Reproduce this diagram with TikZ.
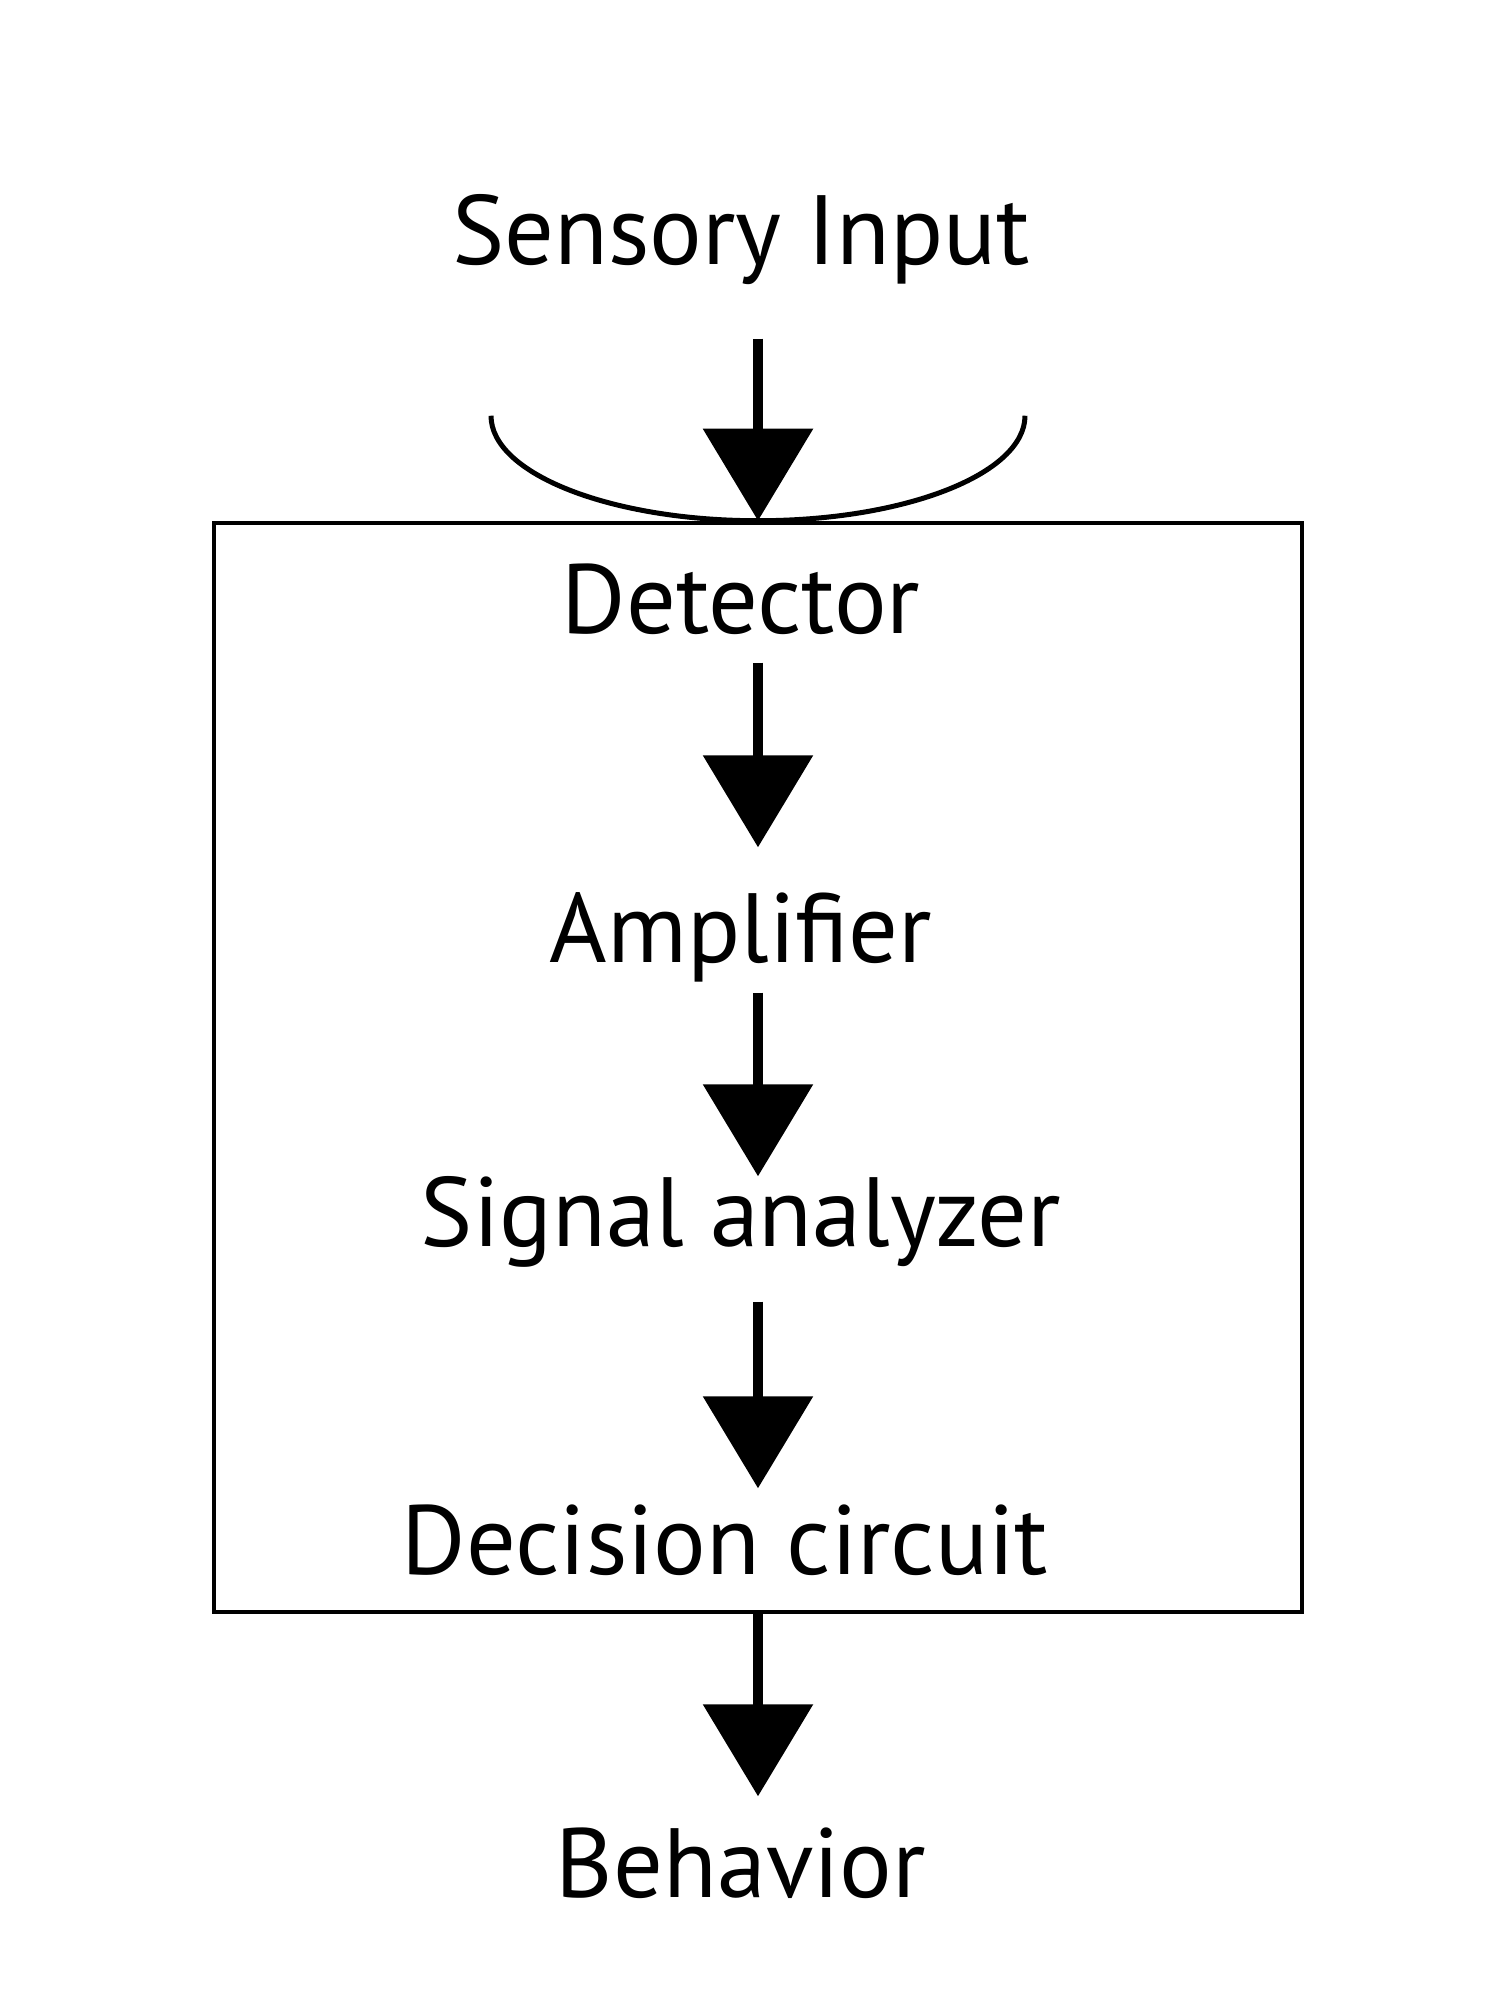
\documentclass[tikz,border=0pt]{standalone}
\usepackage{fontspec}
\setmainfont{PT Sans}
\usetikzlibrary{arrows.meta}

\begin{document}
\begin{tikzpicture}[
	every node/.style={font=\fontsize{28}{33}\selectfont},
	stage/.style={anchor=base, inner sep=0pt, text height=6.6mm, text depth=0pt},
	flow/.style={line width=1mm, -{Triangle[length=9.2mm, width=10.8mm]}},
]
	\useasboundingbox (0,0) rectangle (15,20);
	% the detector unit
	\node[draw, line width=0.45mm, minimum width=10.88cm, minimum height=10.89cm, inner sep=0pt] (box) at (7.58,9.325) {};
	\draw[line width=0.5mm] (box.north) ++(-2.67,1.05) arc[start angle=180, end angle=360, x radius=2.67, y radius=1.05];

	\node[stage] (input) at (7.41,17.35) {Sensory Input};
	\node[stage] (det) at (7.41,13.66) {Detector};
	\node[stage] (amp) at (7.41,10.37) {Amplifier};
	\node[stage] (sig) at (7.41,7.53) {Signal analyzer};
	\node[stage] (dec) at (7.25,4.25) {Decision circuit};
	\node[stage] (beh) at (7.41,1.02) {Behavior};

	\draw[flow, shorten <=7.3mm] (input.south -| box.north) -- (box.north);
	\draw[flow, shorten <=2.8mm, shorten >=4.9mm] (det.south -| box.north) -- (amp.north -| box.north);
	\draw[flow, shorten <=2.9mm, shorten >=0.4mm] (amp.south -| box.north) -- (sig.north -| box.north);
	\draw[flow, shorten <=5.4mm, shorten >=2mm] (sig.south -| box.north) -- (dec.north -| box.north);
	\draw[flow, shorten >=3.5mm] (box.south) -- (beh.north -| box.south);
\end{tikzpicture}
\end{document}
